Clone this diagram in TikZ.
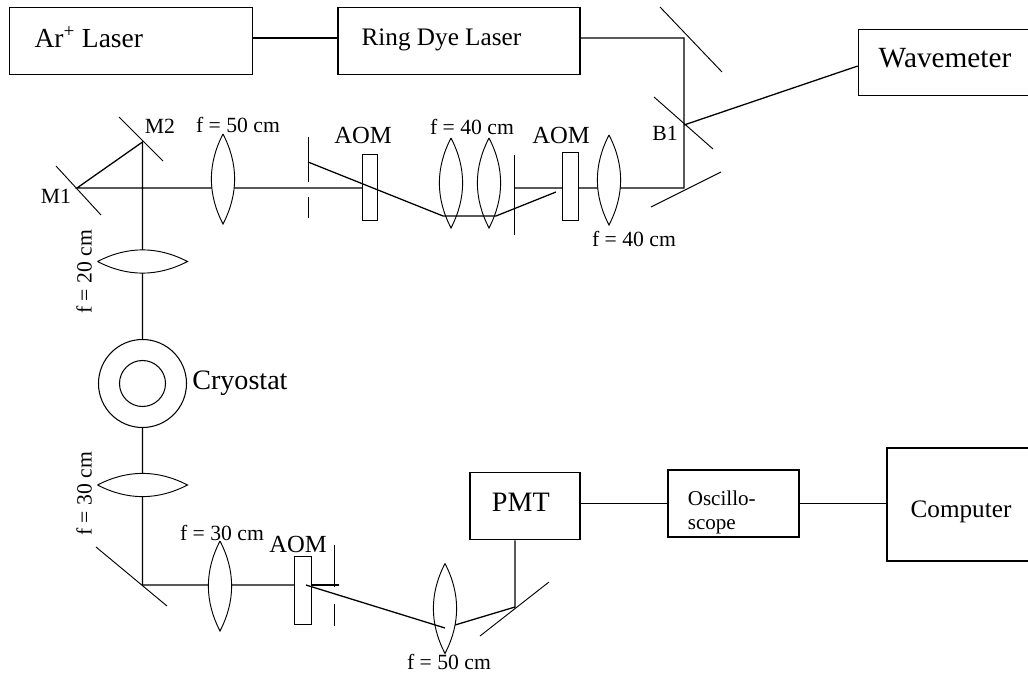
\documentclass[tikz,border=0pt]{standalone}
\usepackage{fontspec}
\setmainfont{Liberation Serif}
\usetikzlibrary{positioning}
\tikzset{
	box/.style={draw,line width=1pt,text depth=7pt,font=\fontsize{21.5}{26}\selectfont},
	tag/.style={inner sep=0pt,font=\fontsize{18.5}{22}\selectfont},
	beam/.style={line width=1.1pt},
	mirror/.style={line width=0.8pt},
	lensv/.pic={\draw[line width=0.8pt,fill=white] (0,-45) .. controls (-15.5,-15) and (-15.5,15) .. (0,45) .. controls (15.5,15) and (15.5,-15) .. (0,-45);},
}

\begin{document}
\begin{tikzpicture}[x=0.03cm,y=-0.03cm]
			\useasboundingbox (0,0) rectangle (1028,673);

			% draw boxes
			\node (Ar_laser) at (131,41) [box,font=\fontsize{23.5}{27}\selectfont,minimum width=7.3cm,minimum height=2cm] {Ar\textsuperscript{+} Laser\hspace*{72pt}};
			\node (Ring_laser) at (459,41) [box,minimum width=7.26cm,minimum height=2cm] {Ring Dye Laser\hspace*{30pt}};
			\node (Wavemeter) at (945,62.5) [box,font=\fontsize{25}{29}\selectfont,minimum width=5.2cm,minimum height=2cm] {Wavemeter};
			\node (PMT) at (525,506) [box,font=\fontsize{24}{28}\selectfont,minimum width=3.3cm,minimum height=2.03cm] {PMT\hspace*{7pt}};
			\node (Scope) at (733.5,503.5) [box,text depth=9pt,font=\fontsize{18}{20.4}\selectfont,text width=78pt,align=left,minimum width=3.93cm,minimum height=2.01cm] {Oscillo-\\scope};
			\node (Computer) at (961,504.5) [box,text depth=0pt,text height=22pt,minimum width=4.44cm,minimum height=3.39cm] {Computer};

			% beam points
			\coordinate (M_top) at (684,38);
			\coordinate (B1) at (684,125);
			\coordinate (M_low) at (684,188);
			\coordinate (stop_b) at (514,188);
			\coordinate (M1) at (77,188);
			\coordinate (M2) at (142.5,142);
			\coordinate (M_bottom) at (142.5,585);
			\coordinate (M_pmt) at (515,607);
			\coordinate (stop_a) at (308,162);
			\coordinate (fold_a) at (443,216);
			\coordinate (fold_b) at (496,216);
			\coordinate (end_a) at (556,192);
			\coordinate (aom_c) at (306,585);
			\coordinate (stop_c) at (339,585);
			\coordinate (fold_c) at (445,628);
			\coordinate (aom_a) at (369.5,188);

			% draw beams behind the optics
			\draw[beam] ([yshift=2.5pt]Ar_laser.east) -- ([yshift=2.5pt]Ring_laser.west);
			\draw[beam] ([yshift=2.5pt]Ring_laser.east) -- (M_top) -- (M_low) -- (stop_b);
			\draw[beam] (aom_a) -- (M1) -- (M2) -- (M_bottom) -- (stop_c);
			\draw[beam] (B1) -- ([yshift=-3pt]Wavemeter.west);
			\draw[beam] (fold_c) -- (M_pmt) -- (M_pmt |- PMT.south);
			\draw[beam] (PMT.east |- Scope.east) -- (Scope.west);
			\draw[beam] (Scope.east) -- (Computer.west |- Scope.east);

			% draw mirrors
			\draw[mirror] (660,7) -- (722,72);
			\draw[mirror] (654,97) -- (713,149);
			\draw[mirror] (651,207) -- (721,172);
			\draw[mirror] (56,166) -- (101,215);
			\draw[mirror] (119,117) -- (163,161);
			\draw[mirror] (96,547) -- (167,606);
			\draw[mirror] (480,636) -- (549,582);

			% draw stops
			\draw[mirror] (308,137) -- (308,182) (308,197) -- (308,218);
			\draw[mirror] (514,155) -- (514,235);
			\draw[mirror] (334,545) -- (334,587) (334,604) -- (334,626);

			% draw lenses
			\pic at (223,179) {lensv};
			\pic at (451,183) {lensv};
			\pic at (489,183) {lensv};
			\pic at (609,180) {lensv};
			\pic at (220,586) {lensv};
			\pic at (445,608.5) {lensv};
			\pic[rotate=90] at (142.5,261.5) {lensv};
			\pic[rotate=90] at (142.5,485) {lensv};

			% draw AOMs
			\node (AOM_a) at (369.5,187) [draw,line width=0.8pt,fill=white,minimum width=0.45cm,minimum height=1.98cm,inner sep=0pt] {};
			\node (AOM_b) at (570,186) [draw,line width=0.8pt,fill=white,minimum width=0.48cm,minimum height=2.04cm,inner sep=0pt] {};
			\node (AOM_c) at (302.5,590) [draw,line width=0.8pt,fill=white,minimum width=0.51cm,minimum height=2.04cm,inner sep=0pt] {};

			% draw cryostat
			\node (Cryostat) at (142.5,383.5) [draw,circle,line width=0.9pt,fill=white,minimum size=2.64cm,inner sep=0pt] {};
			\node (Sample) at (142.5,383.5) [draw,circle,line width=0.9pt,minimum size=1.38cm,inner sep=0pt] {};

			% draw beams over the optics
			\draw[beam] (stop_a) -- (fold_a) -- (fold_b) -- (end_a);
			\draw[beam] (aom_c) -- (fold_c);
			\draw[beam] (AOM_c.east |- M_bottom) -- (stop_c);

			% draw labels
			\node (M1_tag) at (56,196) [tag] {M1};
			\node (M2_tag) at (160,126) [tag] {M2};
			\node (B1_tag) at (665,133) [tag] {B1};
			\node (f_a) at (238,125) [tag] {f = 50 cm};
			\node (f_b) at (472,127) [tag] {f = 40 cm};
			\node (f_c) at (634,239) [tag] {f = 40 cm};
			\node (f_d) at (84,272) [tag,rotate=90] {f = 20 cm};
			\node (f_e) at (84,494) [tag,rotate=90] {f = 30 cm};
			\node (f_f) at (222,533) [tag] {f = 30 cm};
			\node (f_g) at (449,662) [tag] {f = 50 cm};
			\node (AOM_a_tag) at (363,135) [tag,font=\fontsize{21}{24}\selectfont] {AOM};
			\node (AOM_b_tag) at (561,135) [tag,font=\fontsize{21}{24}\selectfont] {AOM};
			\node (AOM_c_tag) at (298,544) [tag,font=\fontsize{21}{24}\selectfont] {AOM};
			\node (Cryostat_tag) [right=0.15cm of Cryostat,tag,font=\fontsize{24}{28}\selectfont] {Cryostat};
		\end{tikzpicture}
\end{document}
